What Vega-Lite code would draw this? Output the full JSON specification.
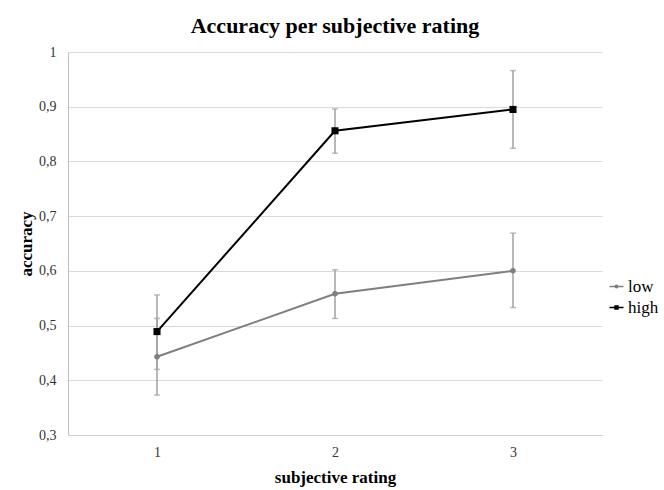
{
  "$schema": "https://vega.github.io/schema/vega-lite/v6.json",
  "width": 534,
  "height": 383,
  "autosize": {"type": "none"},
  "padding": {"left": 68, "top": 52, "right": 62, "bottom": 55},
  "background": "white",
  "title": {
    "text": "Accuracy per subjective rating",
    "font": "Liberation Serif",
    "fontSize": 22,
    "fontWeight": "bold",
    "color": "#000000",
    "anchor": "middle",
    "offset": 7
  },
  "data": {
    "values": [
      {"rating": "1", "group": "low", "acc": 0.443, "lo": 0.373, "hi": 0.513},
      {"rating": "1", "group": "high", "acc": 0.489, "lo": 0.420, "hi": 0.556},
      {"rating": "2", "group": "low", "acc": 0.558, "lo": 0.513, "hi": 0.602},
      {"rating": "2", "group": "high", "acc": 0.856, "lo": 0.815, "hi": 0.896},
      {"rating": "3", "group": "low", "acc": 0.600, "lo": 0.533, "hi": 0.669},
      {"rating": "3", "group": "high", "acc": 0.895, "lo": 0.824, "hi": 0.966}
    ]
  },
  "encoding": {
    "x": {
      "field": "rating",
      "type": "ordinal",
      "scale": {"type": "point", "padding": 0.5},
      "axis": {
        "title": "subjective rating",
        "labelAngle": 0,
        "ticks": false,
        "domainColor": "#d0d0d0",
        "labelPadding": 10,
        "titlePadding": 10,
        "grid": false
      }
    }
  },
  "layer": [
    {
      "mark": {"type": "rule", "color": "#a0a0a0", "strokeWidth": 1.5},
      "encoding": {
        "y": {"field": "lo", "type": "quantitative"},
        "y2": {"field": "hi"}
      }
    },
    {
      "mark": {"type": "tick", "color": "#a0a0a0", "size": 6, "thickness": 1.5},
      "encoding": {"y": {"field": "lo", "type": "quantitative"}}
    },
    {
      "mark": {"type": "tick", "color": "#a0a0a0", "size": 6, "thickness": 1.5},
      "encoding": {"y": {"field": "hi", "type": "quantitative"}}
    },
    {
      "mark": {"type": "line", "strokeWidth": 2},
      "encoding": {
        "y": {
          "field": "acc",
          "type": "quantitative",
          "scale": {"domain": [0.3, 1], "nice": false, "zero": false},
          "axis": {
            "title": "accuracy",
            "values": [0.3, 0.4, 0.5, 0.6, 0.7, 0.8, 0.9, 1],
            "labelExpr": "datum.value == 1 ? '1' : replace(format(datum.value, '.1f'), '.', ',')",
            "ticks": false,
            "domainColor": "#c0c0c0",
            "gridColor": "#d9d9d9",
            "labelPadding": 12,
            "titlePadding": 3
          }
        },
        "color": {
          "field": "group",
          "type": "nominal",
          "scale": {"domain": ["low", "high"], "range": ["#7f7f7f", "#000000"]},
          "legend": {
            "title": null,
            "orient": "none",
            "legendX": 540,
            "legendY": 226,
            "symbolSize": 196,
            "symbolStrokeWidth": 0,
            "labelFont": "Liberation Serif",
            "labelFontSize": 17,
            "labelColor": "#000000",
            "labelOffset": 3,
            "rowPadding": 3,
            "encode": {
              "labels": {
                "update": {
                  "font": {"value": "Liberation Serif"},
                  "fontSize": {"value": 17},
                  "fill": {"value": "#000000"}
                }
              },
              "symbols": {
                "update": {
                  "shape": {"signal": "datum.value === 'high' ? 'M-1,-0.1H1V0.1H-1Z M-0.32,-0.32H0.32V0.32H-0.32Z' : 'M-1,-0.09H1V0.09H-1Z M0.28,0A0.28,0.28 0 1,1 -0.28,0A0.28,0.28 0 1,1 0.28,0Z'"},
                  "fill": {"signal": "datum.value === 'high' ? '#000000' : '#7f7f7f'"},
                  "fillOpacity": {"value": 1},
                  "strokeWidth": {"value": 0}
                }
              }
            }
          }
        }
      }
    },
    {
      "transform": [{"filter": "datum.group === 'low'"}],
      "mark": {"type": "point", "filled": true, "opacity": 1, "shape": "circle", "size": 30, "color": "#7f7f7f"},
      "encoding": {
        "y": {"field": "acc", "type": "quantitative"}
      }
    },
    {
      "transform": [{"filter": "datum.group === 'high'"}],
      "mark": {"type": "point", "filled": true, "opacity": 1, "shape": "square", "size": 50, "color": "#000000"},
      "encoding": {
        "y": {"field": "acc", "type": "quantitative"}
      }
    }
  ],
  "config": {
    "view": {"stroke": null},
    "axis": {
      "labelFont": "Liberation Serif",
      "labelFontSize": 14,
      "labelColor": "#333333",
      "titleFont": "Liberation Serif",
      "titleFontSize": 17,
      "titleFontWeight": "bold",
      "titleColor": "#000000"
    },
    "legend": {
      "labelFont": "Liberation Serif",
      "labelFontSize": 17,
      "labelColor": "#000000"
    }
  }
}
